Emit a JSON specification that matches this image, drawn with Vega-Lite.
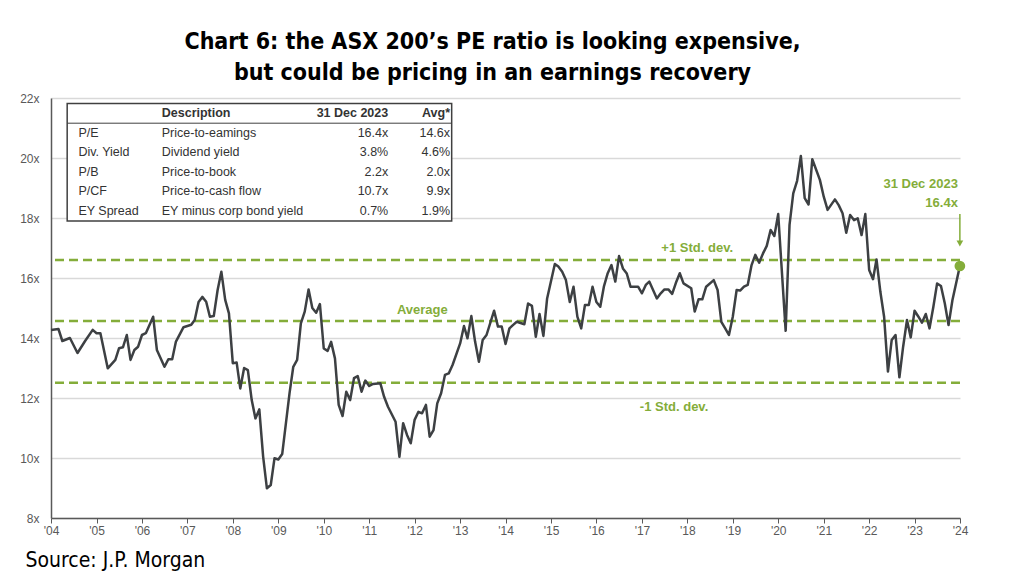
{
  "$schema": "https://vega.github.io/schema/vega-lite/v6.json",
  "width": 909,
  "height": 420,
  "autosize": {"type": "none"},
  "padding": {"left": 51, "top": 98, "right": 64, "bottom": 69},
  "background": "white",
  "config": {"view": {"stroke": null}, "font": "Liberation Sans"},
  "title": {
    "text": ["Chart 6: the ASX 200’s PE ratio is looking expensive,", "but could be pricing in an earnings recovery"],
    "font": "DejaVu Sans Condensed",
    "fontWeight": "bold",
    "fontSize": 23,
    "color": "#000000",
    "anchor": "middle",
    "frame": "group",
    "dx": -13,
    "offset": 7,
    "lineHeight": 31
  },
  "datasets": {
    "pe": [
      {"date": "2004-01-01", "pe": 14.27}, {"date": "2004-03-01", "pe": 14.3}, {"date": "2004-04-01", "pe": 13.9},
      {"date": "2004-06-01", "pe": 14.0}, {"date": "2004-08-01", "pe": 13.5}, {"date": "2004-10-01", "pe": 13.9},
      {"date": "2004-12-01", "pe": 14.27}, {"date": "2005-01-01", "pe": 14.16}, {"date": "2005-02-01", "pe": 14.16},
      {"date": "2005-04-01", "pe": 12.99}, {"date": "2005-06-01", "pe": 13.27}, {"date": "2005-07-01", "pe": 13.66},
      {"date": "2005-08-01", "pe": 13.69}, {"date": "2005-09-01", "pe": 14.1}, {"date": "2005-10-01", "pe": 13.27},
      {"date": "2005-11-01", "pe": 13.6}, {"date": "2005-12-01", "pe": 13.71}, {"date": "2006-01-01", "pe": 14.1},
      {"date": "2006-02-01", "pe": 14.16}, {"date": "2006-04-01", "pe": 14.71}, {"date": "2006-05-01", "pe": 13.6},
      {"date": "2006-07-01", "pe": 13.04}, {"date": "2006-08-01", "pe": 13.29}, {"date": "2006-09-01", "pe": 13.29},
      {"date": "2006-10-01", "pe": 13.88}, {"date": "2006-12-01", "pe": 14.36}, {"date": "2007-02-01", "pe": 14.44},
      {"date": "2007-03-01", "pe": 14.6}, {"date": "2007-04-01", "pe": 15.2}, {"date": "2007-05-01", "pe": 15.37},
      {"date": "2007-06-01", "pe": 15.21}, {"date": "2007-07-01", "pe": 14.71}, {"date": "2007-08-01", "pe": 14.73},
      {"date": "2007-09-01", "pe": 15.6}, {"date": "2007-10-01", "pe": 16.21}, {"date": "2007-11-01", "pe": 15.27},
      {"date": "2007-12-01", "pe": 14.82}, {"date": "2008-01-01", "pe": 13.16}, {"date": "2008-02-01", "pe": 13.18},
      {"date": "2008-03-01", "pe": 12.32}, {"date": "2008-04-01", "pe": 13.0}, {"date": "2008-05-01", "pe": 12.93},
      {"date": "2008-06-01", "pe": 11.93}, {"date": "2008-07-01", "pe": 11.32}, {"date": "2008-08-01", "pe": 11.62},
      {"date": "2008-09-01", "pe": 10.04}, {"date": "2008-10-01", "pe": 8.99}, {"date": "2008-11-01", "pe": 9.1},
      {"date": "2008-12-01", "pe": 9.99}, {"date": "2009-01-01", "pe": 9.95}, {"date": "2009-02-01", "pe": 10.13},
      {"date": "2009-04-01", "pe": 12.16}, {"date": "2009-05-01", "pe": 13.04}, {"date": "2009-06-01", "pe": 13.27},
      {"date": "2009-07-01", "pe": 14.49}, {"date": "2009-08-01", "pe": 14.88}, {"date": "2009-09-01", "pe": 15.62},
      {"date": "2009-10-01", "pe": 15.0}, {"date": "2009-11-01", "pe": 14.84}, {"date": "2009-12-01", "pe": 15.13},
      {"date": "2010-01-01", "pe": 13.65}, {"date": "2010-02-01", "pe": 13.57}, {"date": "2010-03-01", "pe": 13.87},
      {"date": "2010-04-01", "pe": 13.32}, {"date": "2010-05-01", "pe": 11.77}, {"date": "2010-06-01", "pe": 11.4},
      {"date": "2010-07-01", "pe": 12.21}, {"date": "2010-08-01", "pe": 11.93}, {"date": "2010-09-01", "pe": 12.66},
      {"date": "2010-10-01", "pe": 12.73}, {"date": "2010-11-01", "pe": 12.21}, {"date": "2010-12-01", "pe": 12.58},
      {"date": "2011-01-01", "pe": 12.4}, {"date": "2011-02-01", "pe": 12.47}, {"date": "2011-04-01", "pe": 12.49},
      {"date": "2011-05-01", "pe": 12.04}, {"date": "2011-06-01", "pe": 11.71}, {"date": "2011-08-01", "pe": 11.21},
      {"date": "2011-09-01", "pe": 10.04}, {"date": "2011-10-01", "pe": 11.16}, {"date": "2011-11-01", "pe": 10.77},
      {"date": "2011-12-01", "pe": 10.49}, {"date": "2012-01-01", "pe": 11.27}, {"date": "2012-02-01", "pe": 11.54},
      {"date": "2012-03-01", "pe": 11.49}, {"date": "2012-04-01", "pe": 11.77}, {"date": "2012-05-01", "pe": 10.71},
      {"date": "2012-06-01", "pe": 10.93}, {"date": "2012-07-01", "pe": 11.82}, {"date": "2012-08-01", "pe": 12.16},
      {"date": "2012-09-01", "pe": 12.77}, {"date": "2012-10-01", "pe": 12.82}, {"date": "2012-11-01", "pe": 13.1},
      {"date": "2013-01-01", "pe": 13.82}, {"date": "2013-02-01", "pe": 14.4}, {"date": "2013-03-01", "pe": 13.99},
      {"date": "2013-04-01", "pe": 14.73}, {"date": "2013-05-01", "pe": 13.88}, {"date": "2013-06-01", "pe": 13.21},
      {"date": "2013-07-01", "pe": 13.93}, {"date": "2013-08-01", "pe": 14.1}, {"date": "2013-10-01", "pe": 14.91},
      {"date": "2013-11-01", "pe": 14.38}, {"date": "2013-12-01", "pe": 14.38}, {"date": "2014-01-01", "pe": 13.8},
      {"date": "2014-02-01", "pe": 14.32}, {"date": "2014-03-01", "pe": 14.43}, {"date": "2014-04-01", "pe": 14.54},
      {"date": "2014-06-01", "pe": 14.46}, {"date": "2014-07-01", "pe": 15.15}, {"date": "2014-08-01", "pe": 15.07},
      {"date": "2014-09-01", "pe": 14.04}, {"date": "2014-10-01", "pe": 14.8}, {"date": "2014-11-01", "pe": 14.07},
      {"date": "2014-12-01", "pe": 15.32}, {"date": "2015-02-01", "pe": 16.47}, {"date": "2015-03-01", "pe": 16.38},
      {"date": "2015-04-01", "pe": 16.21}, {"date": "2015-05-01", "pe": 15.93}, {"date": "2015-06-01", "pe": 15.2},
      {"date": "2015-07-01", "pe": 15.71}, {"date": "2015-08-01", "pe": 14.71}, {"date": "2015-09-01", "pe": 14.32},
      {"date": "2015-10-01", "pe": 15.1}, {"date": "2015-11-01", "pe": 15.1}, {"date": "2015-12-01", "pe": 15.71},
      {"date": "2016-01-01", "pe": 15.2}, {"date": "2016-02-01", "pe": 15.04}, {"date": "2016-03-01", "pe": 15.71},
      {"date": "2016-04-01", "pe": 16.16}, {"date": "2016-05-01", "pe": 16.43}, {"date": "2016-06-01", "pe": 15.88},
      {"date": "2016-07-01", "pe": 16.73}, {"date": "2016-08-01", "pe": 16.32}, {"date": "2016-09-01", "pe": 16.15},
      {"date": "2016-10-01", "pe": 15.71}, {"date": "2016-11-01", "pe": 15.71}, {"date": "2016-12-01", "pe": 15.71},
      {"date": "2017-01-01", "pe": 15.49}, {"date": "2017-02-01", "pe": 15.77}, {"date": "2017-03-01", "pe": 15.88},
      {"date": "2017-05-01", "pe": 15.32}, {"date": "2017-06-01", "pe": 15.49}, {"date": "2017-07-01", "pe": 15.62},
      {"date": "2017-08-01", "pe": 15.62}, {"date": "2017-09-01", "pe": 15.47}, {"date": "2017-10-01", "pe": 15.84},
      {"date": "2017-11-01", "pe": 16.16}, {"date": "2017-12-01", "pe": 15.82}, {"date": "2018-02-01", "pe": 15.66},
      {"date": "2018-03-01", "pe": 14.88}, {"date": "2018-04-01", "pe": 15.29}, {"date": "2018-05-01", "pe": 15.29},
      {"date": "2018-06-01", "pe": 15.71}, {"date": "2018-08-01", "pe": 15.93}, {"date": "2018-09-01", "pe": 15.6},
      {"date": "2018-10-01", "pe": 14.54}, {"date": "2018-11-01", "pe": 14.32}, {"date": "2018-12-01", "pe": 14.1},
      {"date": "2019-01-01", "pe": 14.71}, {"date": "2019-02-01", "pe": 15.6}, {"date": "2019-03-01", "pe": 15.58},
      {"date": "2019-04-01", "pe": 15.71}, {"date": "2019-05-01", "pe": 15.77}, {"date": "2019-06-01", "pe": 16.43},
      {"date": "2019-07-01", "pe": 16.77}, {"date": "2019-08-01", "pe": 16.51}, {"date": "2019-09-01", "pe": 16.82},
      {"date": "2019-10-01", "pe": 17.07}, {"date": "2019-11-01", "pe": 17.6}, {"date": "2019-12-01", "pe": 17.4},
      {"date": "2020-01-01", "pe": 18.13}, {"date": "2020-03-01", "pe": 14.24}, {"date": "2020-04-01", "pe": 17.77},
      {"date": "2020-05-01", "pe": 18.82}, {"date": "2020-06-01", "pe": 19.24}, {"date": "2020-07-01", "pe": 20.07},
      {"date": "2020-08-01", "pe": 18.66}, {"date": "2020-09-01", "pe": 18.45}, {"date": "2020-10-01", "pe": 19.96},
      {"date": "2020-12-01", "pe": 19.27}, {"date": "2021-01-01", "pe": 18.71}, {"date": "2021-02-01", "pe": 18.27},
      {"date": "2021-04-01", "pe": 18.62}, {"date": "2021-05-01", "pe": 18.43}, {"date": "2021-06-01", "pe": 18.16},
      {"date": "2021-07-01", "pe": 17.51}, {"date": "2021-08-01", "pe": 18.1}, {"date": "2021-09-01", "pe": 17.93},
      {"date": "2021-10-01", "pe": 17.99}, {"date": "2021-11-01", "pe": 17.43}, {"date": "2021-12-01", "pe": 18.13},
      {"date": "2022-01-01", "pe": 16.27}, {"date": "2022-02-01", "pe": 15.96}, {"date": "2022-03-01", "pe": 16.62},
      {"date": "2022-04-01", "pe": 15.54}, {"date": "2022-05-01", "pe": 14.71}, {"date": "2022-06-01", "pe": 12.88},
      {"date": "2022-07-01", "pe": 13.93}, {"date": "2022-08-01", "pe": 14.1}, {"date": "2022-09-01", "pe": 12.69},
      {"date": "2022-10-01", "pe": 13.71}, {"date": "2022-11-01", "pe": 14.6}, {"date": "2022-12-01", "pe": 14.02},
      {"date": "2023-01-01", "pe": 14.91}, {"date": "2023-02-01", "pe": 14.71}, {"date": "2023-03-01", "pe": 14.51},
      {"date": "2023-04-01", "pe": 14.8}, {"date": "2023-05-01", "pe": 14.32}, {"date": "2023-06-01", "pe": 15.04},
      {"date": "2023-07-01", "pe": 15.82}, {"date": "2023-08-01", "pe": 15.73}, {"date": "2023-09-01", "pe": 15.15},
      {"date": "2023-10-01", "pe": 14.43}, {"date": "2023-11-01", "pe": 15.26}, {"date": "2023-12-31", "pe": 16.4}
    ],
    "levels": [
      {"name": "+1 Std. dev.", "value": 16.6},
      {"name": "Average", "value": 14.57},
      {"name": "-1 Std. dev.", "value": 12.51}
    ],
    "latest": [
      {"date": "2023-12-31", "pe": 16.4, "dateLabel": "31 Dec 2023", "peLabel": "16.4x"}
    ],
    "table": [
      {"metric": "Header", "desc": "Description", "now": "31 Dec 2023", "avg": "Avg*"},
      {"metric": "P/E", "desc": "Price-to-eamings", "now": "16.4x", "avg": "14.6x"},
      {"metric": "Div. Yield", "desc": "Dividend yield", "now": "3.8%", "avg": "4.6%"},
      {"metric": "P/B", "desc": "Price-to-book", "now": "2.2x", "avg": "2.0x"},
      {"metric": "P/CF", "desc": "Price-to-cash flow", "now": "10.7x", "avg": "9.9x"},
      {"metric": "EY Spread", "desc": "EY minus corp bond yield", "now": "0.7%", "avg": "1.9%"}
    ]
  },
  "layer": [
    {
      "layer": [
        {
          "data": {"name": "levels"},
          "mark": {"type": "rule", "stroke": "#84ad3a", "strokeWidth": 2.5, "strokeDash": [9, 5]},
          "encoding": {
            "y": {"field": "value", "type": "quantitative"}
          }
        },
        {
          "data": {"name": "pe"},
          "mark": {"type": "line", "color": "#3d4043", "strokeWidth": 2.5, "strokeJoin": "round"},
          "encoding": {
            "x": {
              "field": "date",
              "type": "temporal",
              "scale": {"type": "utc", "domain": [{"year": 2004, "month": 1, "date": 1, "utc": true}, {"year": 2024, "month": 1, "date": 1, "utc": true}]},
              "axis": {
                "tickCount": {"interval": "year", "step": 1},
                "labelExpr": "\"'\" + utcFormat(datum.value, '%y')",
                "grid": false,
                "domainColor": "#595959",
                "domainWidth": 1.5,
                "tickColor": "#595959",
                "tickSize": 5,
                "labelColor": "#595959",
                "labelFontSize": 12,
                "labelPadding": 2,
                "labelFlush": false,
                "labelOverlap": false,
                "title": "Source: J.P. Morgan",
                "titleFont": "DejaVu Sans Condensed",
                "titleFontSize": 21,
                "titleFontWeight": "normal",
                "titleColor": "#000000",
                "titleAnchor": "start",
                "titleAlign": "left",
                "titleBaseline": "middle",
                "titleX": -26,
                "titleY": 42
              }
            },
            "y": {
              "field": "pe",
              "type": "quantitative",
              "scale": {"domain": [8, 22], "nice": false, "zero": false},
              "axis": {
                "values": [8, 10, 12, 14, 16, 18, 20, 22],
                "labelExpr": "datum.value + 'x'",
                "grid": true,
                "gridColor": "#d9d9d9",
                "gridWidth": 1.5,
                "ticks": false,
                "domainColor": "#595959",
                "domainWidth": 1.5,
                "labelColor": "#595959",
                "labelFontSize": 12,
                "labelPadding": 12,
                "title": null
              }
            }
          }
        },
        {
          "data": {"name": "latest"},
          "mark": {"type": "point", "filled": true, "color": "#84ad3a", "size": 115, "opacity": 1},
          "encoding": {
            "x": {"field": "date", "type": "temporal"},
            "y": {"field": "pe", "type": "quantitative"}
          }
        },
        {
          "data": {"name": "latest"},
          "mark": {"type": "rule", "color": "#84ad3a", "strokeWidth": 1.5},
          "encoding": {
            "x": {"field": "date", "type": "temporal"},
            "y": {"datum": 18.13},
            "y2": {"datum": 17.2}
          }
        },
        {
          "data": {"name": "latest"},
          "mark": {"type": "point", "shape": "triangle-down", "filled": true, "color": "#84ad3a", "size": 45, "opacity": 1},
          "encoding": {
            "x": {"field": "date", "type": "temporal"},
            "y": {"datum": 17.15}
          }
        },
        {
          "data": {"name": "latest"},
          "mark": {"type": "text", "align": "right", "baseline": "middle", "dx": -2, "dy": -82, "fontSize": 13, "fontWeight": "bold", "color": "#84ad3a"},
          "encoding": {
            "x": {"field": "date", "type": "temporal"},
            "y": {"field": "pe", "type": "quantitative"},
            "text": {"field": "dateLabel"}
          }
        },
        {
          "data": {"name": "latest"},
          "mark": {"type": "text", "align": "right", "baseline": "middle", "dx": -2, "dy": -63, "fontSize": 13, "fontWeight": "bold", "color": "#84ad3a"},
          "encoding": {
            "x": {"field": "date", "type": "temporal"},
            "y": {"field": "pe", "type": "quantitative"},
            "text": {"field": "peLabel"}
          }
        },
        {
          "data": {"name": "levels"},
          "transform": [{"filter": "datum.name == '+1 Std. dev.'"}],
          "mark": {"type": "text", "align": "center", "baseline": "middle", "dy": -12, "fontSize": 13, "fontWeight": "bold", "color": "#84ad3a"},
          "encoding": {
            "x": {"datum": {"year": 2018, "month": 3, "date": 21, "utc": true}, "type": "temporal"},
            "y": {"field": "value", "type": "quantitative"},
            "text": {"field": "name"}
          }
        },
        {
          "data": {"name": "levels"},
          "transform": [{"filter": "datum.name == 'Average'"}],
          "mark": {"type": "text", "align": "center", "baseline": "middle", "dy": -11, "fontSize": 13, "fontWeight": "bold", "color": "#84ad3a"},
          "encoding": {
            "x": {"datum": {"year": 2012, "month": 3, "date": 3, "utc": true}, "type": "temporal"},
            "y": {"field": "value", "type": "quantitative"},
            "text": {"field": "name"}
          }
        },
        {
          "data": {"name": "levels"},
          "transform": [{"filter": "datum.name == '-1 Std. dev.'"}],
          "mark": {"type": "text", "align": "center", "baseline": "middle", "dy": 24, "fontSize": 13, "fontWeight": "bold", "color": "#84ad3a"},
          "encoding": {
            "x": {"datum": {"year": 2017, "month": 9, "date": 16, "utc": true}, "type": "temporal"},
            "y": {"field": "value", "type": "quantitative"},
            "text": {"field": "name"}
          }
        },
        {
          "data": {"name": "latest"},
          "mark": {"type": "rect", "fill": "#ffffff", "stroke": "#404040", "strokeWidth": 1.5},
          "encoding": {
            "x": {"datum": {"year": 2004, "month": 5, "date": 10, "utc": true}, "type": "temporal"},
            "x2": {"datum": {"year": 2012, "month": 10, "date": 25, "utc": true}},
            "y": {"datum": 21.82, "type": "quantitative"},
            "y2": {"datum": 17.9}
          }
        },
        {
          "data": {"name": "latest"},
          "mark": {"type": "rule", "stroke": "#404040", "strokeWidth": 1},
          "encoding": {
            "x": {"datum": {"year": 2004, "month": 5, "date": 10, "utc": true}, "type": "temporal"},
            "x2": {"datum": {"year": 2012, "month": 10, "date": 25, "utc": true}},
            "y": {"datum": 21.16, "type": "quantitative"}
          }
        }
      ]
    },
    {
      "data": {"name": "table"},
      "encoding": {
        "y": {
          "field": "metric",
          "type": "nominal",
          "scale": {"type": "point", "domain": ["Header", "P/E", "Div. Yield", "P/B", "P/CF", "EY Spread"], "range": [15, 113], "padding": 0},
          "axis": null
        }
      },
      "layer": [
        {
          "transform": [{"filter": "datum.metric != 'Header'"}],
          "mark": {"type": "text", "align": "left", "baseline": "middle", "fontSize": 12.5, "color": "#333333"},
          "encoding": {
            "x": {"datum": {"year": 2004, "month": 8, "date": 8, "utc": true}, "type": "temporal"},
            "text": {"field": "metric"}
          }
        },
        {
          "transform": [{"filter": "datum.metric != 'Header'"}],
          "mark": {"type": "text", "align": "left", "baseline": "middle", "fontSize": 12.5, "color": "#333333"},
          "encoding": {
            "x": {"datum": {"year": 2006, "month": 6, "date": 9, "utc": true}, "type": "temporal"},
            "text": {"field": "desc"}
          }
        },
        {
          "transform": [{"filter": "datum.metric != 'Header'"}],
          "mark": {"type": "text", "align": "right", "baseline": "middle", "fontSize": 12.5, "color": "#333333"},
          "encoding": {
            "x": {"datum": {"year": 2011, "month": 6, "date": 3, "utc": true}, "type": "temporal"},
            "text": {"field": "now"}
          }
        },
        {
          "transform": [{"filter": "datum.metric != 'Header'"}],
          "mark": {"type": "text", "align": "right", "baseline": "middle", "fontSize": 12.5, "color": "#333333"},
          "encoding": {
            "x": {"datum": {"year": 2012, "month": 10, "date": 12, "utc": true}, "type": "temporal"},
            "text": {"field": "avg"}
          }
        },
        {
          "transform": [{"filter": "datum.metric == 'Header'"}],
          "mark": {"type": "text", "align": "left", "baseline": "middle", "fontSize": 12.5, "fontWeight": "bold", "color": "#333333"},
          "encoding": {
            "x": {"datum": {"year": 2006, "month": 6, "date": 9, "utc": true}, "type": "temporal"},
            "text": {"field": "desc"}
          }
        },
        {
          "transform": [{"filter": "datum.metric == 'Header'"}],
          "mark": {"type": "text", "align": "right", "baseline": "middle", "fontSize": 12.5, "fontWeight": "bold", "color": "#333333"},
          "encoding": {
            "x": {"datum": {"year": 2011, "month": 6, "date": 3, "utc": true}, "type": "temporal"},
            "text": {"field": "now"}
          }
        },
        {
          "transform": [{"filter": "datum.metric == 'Header'"}],
          "mark": {"type": "text", "align": "right", "baseline": "middle", "fontSize": 12.5, "fontWeight": "bold", "color": "#333333"},
          "encoding": {
            "x": {"datum": {"year": 2012, "month": 10, "date": 12, "utc": true}, "type": "temporal"},
            "text": {"field": "avg"}
          }
        }
      ]
    }
  ],
  "resolve": {"scale": {"y": "independent"}}
}
